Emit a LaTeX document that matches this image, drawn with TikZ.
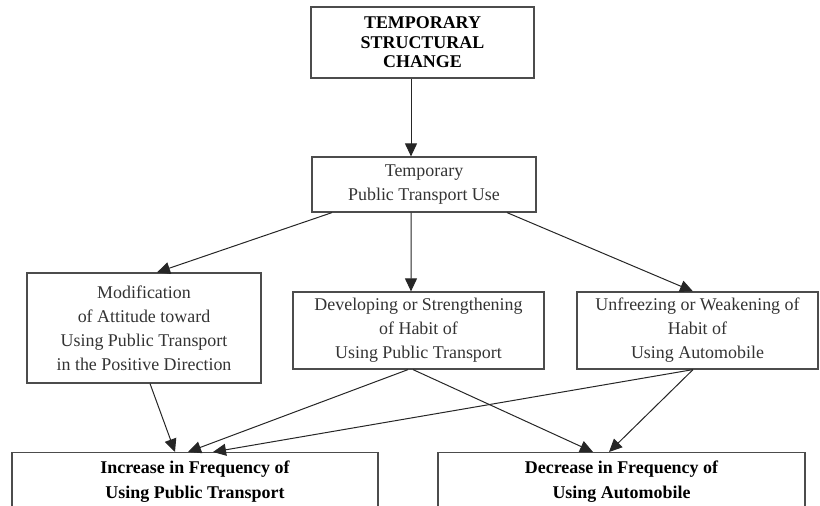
\documentclass[tikz,border=0pt]{standalone}
\usepackage{fontspec}
\setmainfont{Liberation Serif}
\usetikzlibrary{arrows.meta,positioning}

\begin{document}
\begin{tikzpicture}[x=1bp,y=-1bp,
    box/.style={draw=black!70,line width=1.2bp,align=center,text=black!80,
      font=\fontsize{18}{24}\selectfont,inner sep=0pt},
    outbox/.style={box,font=\fontsize{18}{25}\selectfont\bfseries,text=black,
      anchor=north,inner ysep=8bp},
    arr/.style={-{Triangle[length=13bp,width=12bp]},line width=1bp,black!85}]
    \useasboundingbox (0,0) rectangle (820,506);
    \clip (0,0) rectangle (820,506);
    % boxes
    \node[box,font=\fontsize{18}{19.5}\selectfont\bfseries,text=black,
      minimum width=223bp,minimum height=71bp] (change) at (422.5,42.5)
      {TEMPORARY\\STRUCTURAL\\CHANGE};
    \node[box,minimum width=224bp,minimum height=55bp] (use) at (424,184.5)
      {Temporary\\Public Transport Use};
    \node[box,minimum width=234bp,minimum height=110bp] (attitude) at (144,328)
      {Modification\\of Attitude toward\\Using Public Transport\\in the Positive Direction};
    \node[box,minimum width=251bp,minimum height=77bp] (habit) at (418.5,330.5)
      {Developing or Strengthening\\of Habit of\\Using Public Transport};
    \node[box,minimum width=241bp,minimum height=77bp] (unfreeze) at (697.5,330.5)
      {Unfreezing or Weakening of\\Habit of\\Using Automobile};
    \node[outbox,minimum width=366bp] (increase) at (195,452)
      {Increase in Frequency of\\Using Public Transport};
    \node[outbox,minimum width=367bp] (decrease) at (621.5,452)
      {Decrease in Frequency of\\Using Automobile};
    % arrows
    \draw[arr] ([xshift=-11.5bp]change.south) -- ([xshift=-13bp]use.north);
    \draw[arr] ([xshift=-92bp]use.south) -- ([xshift=13bp]attitude.north);
    \draw[arr] ([xshift=-13bp]use.south) -- ([xshift=-7.5bp]habit.north);
    \draw[arr] ([xshift=83bp]use.south) -- ([xshift=-4.5bp]unfreeze.north);
    \draw[arr] ([xshift=6bp]attitude.south) -- ([xshift=-20bp]increase.north);
    \draw[arr] ([xshift=-10.5bp]habit.south) -- ([xshift=-7bp]increase.north);
    \draw[arr] ([xshift=-5.5bp]habit.south) -- ([xshift=-28.5bp]decrease.north);
    \draw[arr] ([xshift=-4.5bp]unfreeze.south) -- ([xshift=18bp]increase.north);
    \draw[arr] ([xshift=-4.5bp]unfreeze.south) -- ([xshift=-12.5bp]decrease.north);
\end{tikzpicture}
\end{document}
